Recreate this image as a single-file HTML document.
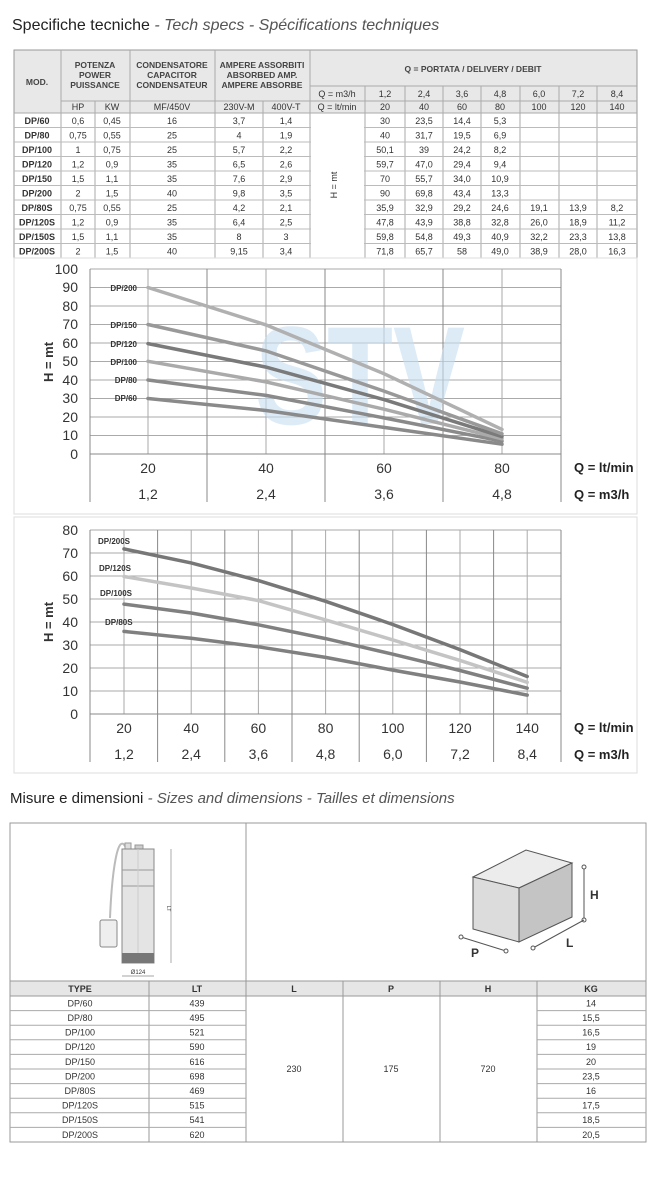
<!DOCTYPE html>
<html><head><meta charset="utf-8"><style>
html,body{margin:0;padding:0;background:#fff}
svg{display:block}
text{font-family:"Liberation Sans Narrow","Liberation Sans",sans-serif;fill:#333}
.b{font-weight:bold}
.t{font-size:9px;text-anchor:middle}
.h{font-size:8.5px;font-weight:bold;text-anchor:middle;fill:#444}
.ax{font-size:14px;fill:#444}
.lb{font-size:8px;font-weight:bold;fill:#444}
</style></head><body>
<svg width="656" height="1200" viewBox="0 0 656 1200" xmlns="http://www.w3.org/2000/svg">
<text x="12" y="30" style="font-family:'Liberation Sans',sans-serif;font-size:16px;fill:#222">Specifiche tecniche <tspan style="font-style:italic;fill:#555"> - Tech specs - Spécifications techniques</tspan></text>

<!-- TABLE 1 -->
<rect x="14" y="50" width="623" height="63" fill="#e8e8e8"/>
<rect x="14" y="50" width="623" height="208" fill="none" stroke="#999" stroke-width="1"/>
<g stroke="#aaa" stroke-width="1">
<line x1="310" y1="86" x2="637" y2="86"/>
<line x1="310" y1="101" x2="637" y2="101"/>
<line x1="61" y1="101" x2="310" y2="101"/>
<line x1="14" y1="113" x2="637" y2="113"/>
<line x1="61" y1="50" x2="61" y2="258"/>
<line x1="95" y1="101" x2="95" y2="258"/>
<line x1="130" y1="50" x2="130" y2="258"/>
<line x1="215" y1="50" x2="215" y2="258"/>
<line x1="263" y1="101" x2="263" y2="258"/>
<line x1="310" y1="50" x2="310" y2="258"/>
<line x1="365" y1="86" x2="365" y2="258"/>
<line x1="405" y1="86" x2="405" y2="258"/>
<line x1="443" y1="86" x2="443" y2="258"/>
<line x1="481" y1="86" x2="481" y2="258"/>
<line x1="520" y1="86" x2="520" y2="258"/>
<line x1="559" y1="86" x2="559" y2="258"/>
<line x1="597" y1="86" x2="597" y2="258"/>
</g>
<g stroke="#bbb" stroke-width="1">
<line x1="14" y1="127.5" x2="637" y2="127.5"/>
<line x1="14" y1="142" x2="637" y2="142"/>
<line x1="14" y1="156.5" x2="637" y2="156.5"/>
<line x1="14" y1="171" x2="637" y2="171"/>
<line x1="14" y1="185.5" x2="637" y2="185.5"/>
<line x1="14" y1="200" x2="637" y2="200"/>
<line x1="14" y1="214.5" x2="637" y2="214.5"/>
<line x1="14" y1="229" x2="637" y2="229"/>
<line x1="14" y1="243.5" x2="637" y2="243.5"/>
</g>
<rect x="311" y="114" width="53" height="143" fill="#fff"/>
<text class="h" x="37" y="85">MOD.</text>
<text class="h" x="95" y="68">POTENZA</text><text class="h" x="95" y="78">POWER</text><text class="h" x="95" y="88">PUISSANCE</text>
<text class="h" x="172" y="68">CONDENSATORE</text><text class="h" x="172" y="78">CAPACITOR</text><text class="h" x="172" y="88">CONDENSATEUR</text>
<text class="h" x="262" y="68">AMPERE ASSORBITI</text><text class="h" x="262" y="78">ABSORBED AMP.</text><text class="h" x="262" y="88">AMPERE ABSORBE</text>
<text class="h" x="473" y="72">Q = PORTATA / DELIVERY / DEBIT</text>
<g class="t">
<text x="337" y="97">Q = m3/h</text><text x="385" y="97">1,2</text><text x="424" y="97">2,4</text><text x="462" y="97">3,6</text><text x="500" y="97">4,8</text><text x="539" y="97">6,0</text><text x="578" y="97">7,2</text><text x="617" y="97">8,4</text>
<text x="78" y="110">HP</text><text x="112" y="110">KW</text><text x="172" y="110">MF/450V</text><text x="239" y="110">230V-M</text><text x="286" y="110">400V-T</text><text x="337" y="110">Q = lt/min</text><text x="385" y="110">20</text><text x="424" y="110">40</text><text x="462" y="110">60</text><text x="500" y="110">80</text><text x="539" y="110">100</text><text x="578" y="110">120</text><text x="617" y="110">140</text>
</g>
<text class="t" transform="translate(337,185) rotate(-90)">H = mt</text>
<g class="t">
<text x="37" y="124" class="b">DP/60</text><text x="78" y="124">0,6</text><text x="112" y="124">0,45</text><text x="172" y="124">16</text><text x="239" y="124">3,7</text><text x="286" y="124">1,4</text><text x="385" y="124">30</text><text x="424" y="124">23,5</text><text x="462" y="124">14,4</text><text x="500" y="124">5,3</text>
<text x="37" y="138.5" class="b">DP/80</text><text x="78" y="138.5">0,75</text><text x="112" y="138.5">0,55</text><text x="172" y="138.5">25</text><text x="239" y="138.5">4</text><text x="286" y="138.5">1,9</text><text x="385" y="138.5">40</text><text x="424" y="138.5">31,7</text><text x="462" y="138.5">19,5</text><text x="500" y="138.5">6,9</text>
<text x="37" y="153" class="b">DP/100</text><text x="78" y="153">1</text><text x="112" y="153">0,75</text><text x="172" y="153">25</text><text x="239" y="153">5,7</text><text x="286" y="153">2,2</text><text x="385" y="153">50,1</text><text x="424" y="153">39</text><text x="462" y="153">24,2</text><text x="500" y="153">8,2</text>
<text x="37" y="167.5" class="b">DP/120</text><text x="78" y="167.5">1,2</text><text x="112" y="167.5">0,9</text><text x="172" y="167.5">35</text><text x="239" y="167.5">6,5</text><text x="286" y="167.5">2,6</text><text x="385" y="167.5">59,7</text><text x="424" y="167.5">47,0</text><text x="462" y="167.5">29,4</text><text x="500" y="167.5">9,4</text>
<text x="37" y="182" class="b">DP/150</text><text x="78" y="182">1,5</text><text x="112" y="182">1,1</text><text x="172" y="182">35</text><text x="239" y="182">7,6</text><text x="286" y="182">2,9</text><text x="385" y="182">70</text><text x="424" y="182">55,7</text><text x="462" y="182">34,0</text><text x="500" y="182">10,9</text>
<text x="37" y="196.5" class="b">DP/200</text><text x="78" y="196.5">2</text><text x="112" y="196.5">1,5</text><text x="172" y="196.5">40</text><text x="239" y="196.5">9,8</text><text x="286" y="196.5">3,5</text><text x="385" y="196.5">90</text><text x="424" y="196.5">69,8</text><text x="462" y="196.5">43,4</text><text x="500" y="196.5">13,3</text>
<text x="37" y="211" class="b">DP/80S</text><text x="78" y="211">0,75</text><text x="112" y="211">0,55</text><text x="172" y="211">25</text><text x="239" y="211">4,2</text><text x="286" y="211">2,1</text><text x="385" y="211">35,9</text><text x="424" y="211">32,9</text><text x="462" y="211">29,2</text><text x="500" y="211">24,6</text><text x="539" y="211">19,1</text><text x="578" y="211">13,9</text><text x="617" y="211">8,2</text>
<text x="37" y="225.5" class="b">DP/120S</text><text x="78" y="225.5">1,2</text><text x="112" y="225.5">0,9</text><text x="172" y="225.5">35</text><text x="239" y="225.5">6,4</text><text x="286" y="225.5">2,5</text><text x="385" y="225.5">47,8</text><text x="424" y="225.5">43,9</text><text x="462" y="225.5">38,8</text><text x="500" y="225.5">32,8</text><text x="539" y="225.5">26,0</text><text x="578" y="225.5">18,9</text><text x="617" y="225.5">11,2</text>
<text x="37" y="240" class="b">DP/150S</text><text x="78" y="240">1,5</text><text x="112" y="240">1,1</text><text x="172" y="240">35</text><text x="239" y="240">8</text><text x="286" y="240">3</text><text x="385" y="240">59,8</text><text x="424" y="240">54,8</text><text x="462" y="240">49,3</text><text x="500" y="240">40,9</text><text x="539" y="240">32,2</text><text x="578" y="240">23,3</text><text x="617" y="240">13,8</text>
<text x="37" y="254.5" class="b">DP/200S</text><text x="78" y="254.5">2</text><text x="112" y="254.5">1,5</text><text x="172" y="254.5">40</text><text x="239" y="254.5">9,15</text><text x="286" y="254.5">3,4</text><text x="385" y="254.5">71,8</text><text x="424" y="254.5">65,7</text><text x="462" y="254.5">58</text><text x="500" y="254.5">49,0</text><text x="539" y="254.5">38,9</text><text x="578" y="254.5">28,0</text><text x="617" y="254.5">16,3</text>
</g>

<!-- CHART 1 -->
<rect x="14" y="258" width="623" height="256" fill="none" stroke="#ddd"/>
<g stroke="#aaa" stroke-width="1">
<line x1="90" y1="269" x2="561" y2="269"/><line x1="90" y1="287.5" x2="561" y2="287.5"/><line x1="90" y1="306" x2="561" y2="306"/><line x1="90" y1="324.5" x2="561" y2="324.5"/><line x1="90" y1="343" x2="561" y2="343"/><line x1="90" y1="361.5" x2="561" y2="361.5"/><line x1="90" y1="380" x2="561" y2="380"/><line x1="90" y1="398.5" x2="561" y2="398.5"/><line x1="90" y1="417" x2="561" y2="417"/><line x1="90" y1="435.5" x2="561" y2="435.5"/>
<line x1="148" y1="269" x2="148" y2="454"/><line x1="266" y1="269" x2="266" y2="454"/><line x1="384" y1="269" x2="384" y2="454"/><line x1="502" y1="269" x2="502" y2="454"/>
</g>
<g stroke="#888" stroke-width="1">
<line x1="90" y1="454" x2="561" y2="454"/>
<line x1="90" y1="269" x2="90" y2="502"/><line x1="207" y1="269" x2="207" y2="502"/><line x1="325" y1="269" x2="325" y2="502"/><line x1="443" y1="269" x2="443" y2="502"/><line x1="561" y1="269" x2="561" y2="502"/>
</g>
<text x="255" y="424" textLength="210" lengthAdjust="spacingAndGlyphs" style="font-family:'Liberation Sans',sans-serif;font-weight:bold;font-size:140px;fill:#c7dff2;opacity:0.6">STV</text>
<g fill="none" stroke-width="3.5" stroke-linecap="round">
<polyline stroke="#8a8a8a" points="148,398.5 266,410.5 384,427.4 502,444.2"/>
<polyline stroke="#8a8a8a" points="148,380 266,395.4 384,417.9 502,441.2"/>
<polyline stroke="#aaaaaa" points="148,361.3 266,381.9 384,409.2 502,438.8"/>
<polyline stroke="#7a7a7a" points="148,343.6 266,367.1 384,399.6 502,436.6"/>
<polyline stroke="#999999" points="148,324.5 266,350.9 384,391.1 502,433.8"/>
<polyline stroke="#b0b0b0" points="148,287.5 266,324.9 384,373.7 502,429.4"/>
</g>
<g class="lb" text-anchor="end">
<text x="137" y="291">DP/200</text><text x="137" y="328">DP/150</text><text x="137" y="347">DP/120</text><text x="137" y="365">DP/100</text><text x="137" y="383">DP/80</text><text x="137" y="401">DP/60</text>
</g>
<g class="ax" text-anchor="end">
<text x="78" y="274">100</text><text x="78" y="292">90</text><text x="78" y="311">80</text><text x="78" y="329">70</text><text x="78" y="348">60</text><text x="78" y="366">50</text><text x="78" y="385">40</text><text x="78" y="403">30</text><text x="78" y="422">20</text><text x="78" y="440">10</text><text x="78" y="459">0</text>
</g>
<text class="b" style="font-size:13px;text-anchor:middle;fill:#333" transform="translate(53,362) rotate(-90)">H = mt</text>
<g class="ax" text-anchor="middle">
<text x="148" y="473">20</text><text x="266" y="473">40</text><text x="384" y="473">60</text><text x="502" y="473">80</text>
<text x="148" y="499">1,2</text><text x="266" y="499">2,4</text><text x="384" y="499">3,6</text><text x="502" y="499">4,8</text>
</g>
<text x="574" y="472" class="b" style="font-size:13px;fill:#222">Q = lt/min</text>
<text x="574" y="499" class="b" style="font-size:13px;fill:#222">Q = m3/h</text>

<!-- CHART 2 -->
<rect x="14" y="517" width="623" height="256" fill="none" stroke="#ddd"/>
<g stroke="#aaa" stroke-width="1">
<line x1="90" y1="530" x2="561" y2="530"/><line x1="90" y1="553" x2="561" y2="553"/><line x1="90" y1="576" x2="561" y2="576"/><line x1="90" y1="599" x2="561" y2="599"/><line x1="90" y1="622" x2="561" y2="622"/><line x1="90" y1="645" x2="561" y2="645"/><line x1="90" y1="668" x2="561" y2="668"/><line x1="90" y1="691" x2="561" y2="691"/>
<line x1="124" y1="530" x2="124" y2="714"/><line x1="191.2" y1="530" x2="191.2" y2="714"/><line x1="258.4" y1="530" x2="258.4" y2="714"/><line x1="325.6" y1="530" x2="325.6" y2="714"/><line x1="392.8" y1="530" x2="392.8" y2="714"/><line x1="460" y1="530" x2="460" y2="714"/><line x1="527.2" y1="530" x2="527.2" y2="714"/>
</g>
<g stroke="#888" stroke-width="1">
<line x1="90" y1="714" x2="561" y2="714"/>
<line x1="90" y1="530" x2="90" y2="762"/><line x1="157.6" y1="530" x2="157.6" y2="762"/><line x1="224.8" y1="530" x2="224.8" y2="762"/><line x1="292" y1="530" x2="292" y2="762"/><line x1="359.2" y1="530" x2="359.2" y2="762"/><line x1="426.4" y1="530" x2="426.4" y2="762"/><line x1="493.6" y1="530" x2="493.6" y2="762"/><line x1="561" y1="530" x2="561" y2="762"/>
</g>
<g fill="none" stroke-width="3.5" stroke-linecap="round">
<polyline stroke="#808080" points="124,631.4 191.2,638.3 258.4,646.8 325.6,657.4 392.8,670.1 460,682 527.2,695.1"/>
<polyline stroke="#808080" points="124,604.1 191.2,613 258.4,624.8 325.6,638.6 392.8,654.2 460,670.5 527.2,688.2"/>
<polyline stroke="#c4c4c4" points="124,576.5 191.2,588 258.4,600.6 325.6,619.9 392.8,639.9 460,660.4 527.2,682.3"/>
<polyline stroke="#777777" points="124,548.9 191.2,562.9 258.4,580.6 325.6,601.3 392.8,624.5 460,649.6 527.2,676.5"/>
</g>
<g class="lb">
<text x="98" y="544">DP/200S</text><text x="99" y="571">DP/120S</text><text x="100" y="596">DP/100S</text><text x="105" y="625">DP/80S</text>
</g>
<g class="ax" text-anchor="end">
<text x="78" y="535">80</text><text x="78" y="558">70</text><text x="78" y="581">60</text><text x="78" y="604">50</text><text x="78" y="627">40</text><text x="78" y="650">30</text><text x="78" y="673">20</text><text x="78" y="696">10</text><text x="78" y="719">0</text>
</g>
<text class="b" style="font-size:13px;text-anchor:middle;fill:#333" transform="translate(53,622) rotate(-90)">H = mt</text>
<g class="ax" text-anchor="middle">
<text x="124" y="733">20</text><text x="191.2" y="733">40</text><text x="258.4" y="733">60</text><text x="325.6" y="733">80</text><text x="392.8" y="733">100</text><text x="460" y="733">120</text><text x="527.2" y="733">140</text>
<text x="124" y="759">1,2</text><text x="191.2" y="759">2,4</text><text x="258.4" y="759">3,6</text><text x="325.6" y="759">4,8</text><text x="392.8" y="759">6,0</text><text x="460" y="759">7,2</text><text x="527.2" y="759">8,4</text>
</g>
<text x="574" y="732" class="b" style="font-size:13px;fill:#222">Q = lt/min</text>
<text x="574" y="759" class="b" style="font-size:13px;fill:#222">Q = m3/h</text>

<text x="10" y="803" style="font-family:'Liberation Sans',sans-serif;font-size:15px;fill:#222">Misure e dimensioni <tspan style="font-style:italic;fill:#555"> - Sizes and dimensions - Tailles et dimensions</tspan></text>

<!-- BOTTOM TABLE -->
<rect x="10" y="823" width="636" height="319" fill="none" stroke="#999"/>
<line x1="246" y1="823" x2="246" y2="981" stroke="#999"/>
<path d="M126 848 C118 830 112 870 110 918" fill="none" stroke="#bbb" stroke-width="2"/>
<rect x="125" y="843" width="6" height="8" fill="#ddd" stroke="#999"/>
<rect x="135" y="845" width="8" height="4" fill="#ccc" stroke="#999"/>
<rect x="122" y="849" width="32" height="114" fill="#e4e4e4" stroke="#888"/>
<line x1="122" y1="870" x2="154" y2="870" stroke="#999"/><line x1="122" y1="886" x2="154" y2="886" stroke="#999"/>
<line x1="138" y1="849" x2="138" y2="953" stroke="#ccc"/>
<rect x="122" y="953" width="32" height="10" fill="#777"/>
<rect x="100" y="920" width="17" height="27" rx="2" fill="#eee" stroke="#888"/>
<line x1="171" y1="849" x2="171" y2="963" stroke="#888" stroke-width="0.7"/>
<text x="167" y="906" style="font-size:5px" transform="rotate(90,167,906)">LT</text>
<line x1="122" y1="976" x2="154" y2="976" stroke="#888" stroke-width="0.7"/>
<text x="138" y="974" style="font-size:6px;text-anchor:middle">Ø124</text>
<polygon points="473,877 526,850 572,863 519,888" fill="#ececec" stroke="#555"/>
<polygon points="473,877 519,888 519,942 473,929" fill="#dcdcdc" stroke="#555"/>
<polygon points="519,888 572,863 572,917 519,942" fill="#c4c4c4" stroke="#555"/>
<line x1="584" y1="867" x2="584" y2="920" stroke="#555"/>
<circle cx="584" cy="867" r="2" fill="#fff" stroke="#555"/><circle cx="584" cy="920" r="2" fill="#fff" stroke="#555"/>
<line x1="533" y1="948" x2="584" y2="920" stroke="#555"/><circle cx="533" cy="948" r="2" fill="#fff" stroke="#555"/>
<line x1="461" y1="937" x2="506" y2="951" stroke="#555"/><circle cx="461" cy="937" r="2" fill="#fff" stroke="#555"/><circle cx="506" cy="951" r="2" fill="#fff" stroke="#555"/>
<text x="590" y="899" class="b" style="font-size:12px;font-family:'Liberation Sans',sans-serif;fill:#333">H</text>
<text x="566" y="947" class="b" style="font-size:12px;font-family:'Liberation Sans',sans-serif;fill:#333">L</text>
<text x="471" y="957" class="b" style="font-size:12px;font-family:'Liberation Sans',sans-serif;fill:#333">P</text>

<rect x="10" y="981" width="636" height="15" fill="#e6e6e6" stroke="#999"/>
<g stroke="#999">
<line x1="149" y1="981" x2="149" y2="1142"/><line x1="246" y1="981" x2="246" y2="1142"/><line x1="343" y1="981" x2="343" y2="1142"/><line x1="440" y1="981" x2="440" y2="1142"/><line x1="537" y1="981" x2="537" y2="1142"/>
</g>
<g stroke="#aaa">
<line x1="10" y1="1010.6" x2="246" y2="1010.6"/><line x1="537" y1="1010.6" x2="646" y2="1010.6"/>
<line x1="10" y1="1025.2" x2="246" y2="1025.2"/><line x1="537" y1="1025.2" x2="646" y2="1025.2"/>
<line x1="10" y1="1039.8" x2="246" y2="1039.8"/><line x1="537" y1="1039.8" x2="646" y2="1039.8"/>
<line x1="10" y1="1054.4" x2="246" y2="1054.4"/><line x1="537" y1="1054.4" x2="646" y2="1054.4"/>
<line x1="10" y1="1069" x2="246" y2="1069"/><line x1="537" y1="1069" x2="646" y2="1069"/>
<line x1="10" y1="1083.6" x2="246" y2="1083.6"/><line x1="537" y1="1083.6" x2="646" y2="1083.6"/>
<line x1="10" y1="1098.2" x2="246" y2="1098.2"/><line x1="537" y1="1098.2" x2="646" y2="1098.2"/>
<line x1="10" y1="1112.8" x2="246" y2="1112.8"/><line x1="537" y1="1112.8" x2="646" y2="1112.8"/>
<line x1="10" y1="1127.4" x2="246" y2="1127.4"/><line x1="537" y1="1127.4" x2="646" y2="1127.4"/>
</g>
<g class="h" style="font-size:9px">
<text x="80" y="992">TYPE</text><text x="197" y="992">LT</text><text x="294" y="992">L</text><text x="391" y="992">P</text><text x="488" y="992">H</text><text x="591" y="992">KG</text>
</g>
<g class="t">
<text x="80" y="1006.5">DP/60</text><text x="197" y="1006.5">439</text><text x="591" y="1006.5">14</text>
<text x="80" y="1021">DP/80</text><text x="197" y="1021">495</text><text x="591" y="1021">15,5</text>
<text x="80" y="1035.5">DP/100</text><text x="197" y="1035.5">521</text><text x="591" y="1035.5">16,5</text>
<text x="80" y="1050">DP/120</text><text x="197" y="1050">590</text><text x="591" y="1050">19</text>
<text x="80" y="1065">DP/150</text><text x="197" y="1065">616</text><text x="591" y="1065">20</text>
<text x="80" y="1079.5">DP/200</text><text x="197" y="1079.5">698</text><text x="591" y="1079.5">23,5</text>
<text x="80" y="1094">DP/80S</text><text x="197" y="1094">469</text><text x="591" y="1094">16</text>
<text x="80" y="1108.5">DP/120S</text><text x="197" y="1108.5">515</text><text x="591" y="1108.5">17,5</text>
<text x="80" y="1123">DP/150S</text><text x="197" y="1123">541</text><text x="591" y="1123">18,5</text>
<text x="80" y="1138">DP/200S</text><text x="197" y="1138">620</text><text x="591" y="1138">20,5</text>
<text x="294" y="1072">230</text><text x="391" y="1072">175</text><text x="488" y="1072">720</text>
</g>
</svg>
</body></html>
